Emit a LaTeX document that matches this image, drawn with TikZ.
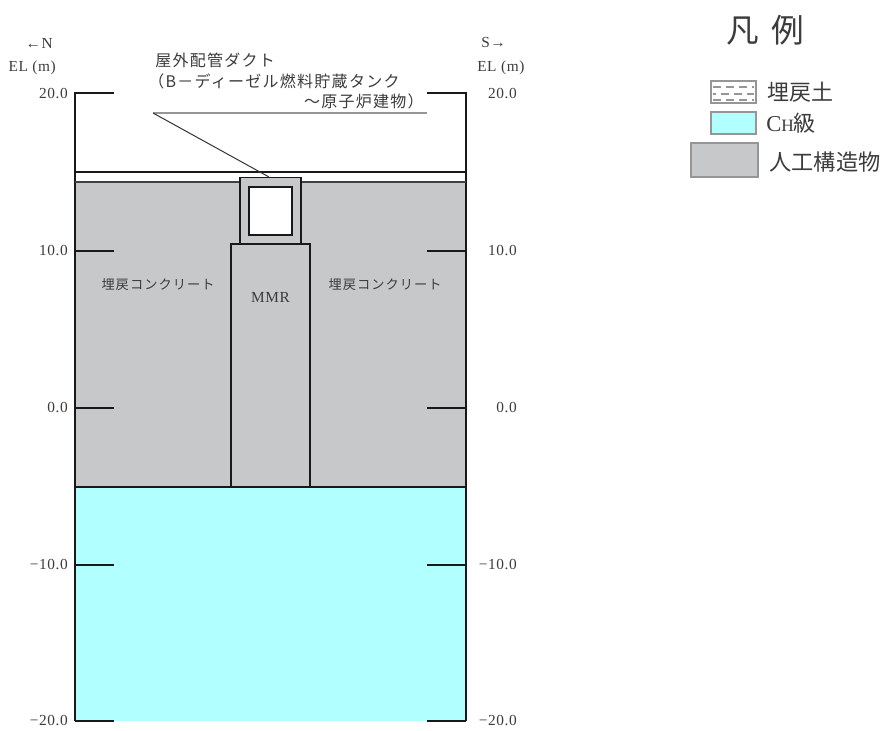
\documentclass[tikz,border=0pt]{standalone}
\usepackage{fontspec}
\setmainfont{Liberation Serif}
\newfontfamily\jp{Noto Sans CJK JP}
\newfontfamily\jpw[LetterSpace=8]{Noto Sans CJK JP}
\newfontfamily\latw[LetterSpace=4]{Liberation Serif}
\definecolor{fillgray}{RGB}{198,200,202}
\definecolor{fillcyan}{RGB}{178,255,255}
\definecolor{edgegray}{RGB}{150,150,150}
\definecolor{txt}{RGB}{60,60,60}
\tikzset{
  outl/.style={draw=black!90,line width=1.15pt},
  boxn/.style={draw=black!90,line width=1.3pt,inner sep=0pt,outer sep=0pt},
  lab/.style={inner sep=0pt,text=txt,font=\latw\fontsize{11.5}{13}\selectfont},
  jplab/.style={inner sep=0pt,text=txt,font=\jpw\fontsize{12}{14}\selectfont},
  smalljp/.style={inner sep=0pt,text=txt,font=\jpw\fontsize{9.9}{11}\selectfont},
  legjp/.style={inner sep=0pt,anchor=west,text=txt,font=\jp\fontsize{16.5}{18}\selectfont},
  legdash/.style={edgegray,line width=0.8pt,dash pattern=on 6pt off 3.75pt},
}
\begin{document}
\begin{tikzpicture}[x=0.75pt,y=-0.75pt]
\useasboundingbox[fill=white] (0,0) rectangle (885,731);
% regions
\fill[fillcyan] (75,487) rectangle (466,721);
\fill[fillgray] (75,182) rectangle (466,487);
% outline and layers
\draw[outl] (114,93) -- (75,93) -- (75,721);
\draw[outl] (427,93) -- (466,93) -- (466,721);
\draw[outl] (75,172) -- (466,172);
\draw[draw=black!75,line width=0.8pt] (75,182) -- (466,182);
\draw[outl] (75,487) -- (466,487);
% structures
\node[boxn,fill=fillgray,minimum width=45.75pt,minimum height=49.5pt] (duct) at (270.5,210.5) {};
\node[boxn,fill=white,minimum width=32pt,minimum height=36pt] (hollow) at (270.5,211) {};
\node[boxn,fill=fillgray,anchor=north,minimum width=59.25pt,minimum height=182.25pt] (mmr) at (270.5,244) {};
\node[lab,font=\latw\fontsize{11.5}{13}\selectfont] (mmrt) at (270.5,297) {MMR};
\node[smalljp] (bl) at (158,285) {埋戻コンクリート};
\node[smalljp] (br) at (385,285) {埋戻コンクリート};
% ticks
\foreach \yy/\t in {251/10.0,408/0.0,565/{−10.0},721/{−20.0}}{
  \draw[outl] (75,\yy) -- (114,\yy);
  \draw[outl] (427,\yy) -- (466,\yy);
  \node[lab,anchor=east] at (68,\yy) {\t};
  \node[lab,anchor=east] at (517,\yy) {\t};
}
\node[lab,anchor=east] (l20) at (68,94) {20.0};
\node[lab,anchor=east] (r20) at (517,94) {20.0};
\node[lab,anchor=east] (n) at (53,43) {←N};
\node[lab,anchor=east] (ell) at (56,68) {EL (m)};
\node[lab,anchor=west] (s) at (481,43) {S→};
\node[lab,anchor=west] (elr) at (477,68) {EL (m)};
% leader
\coordinate (la) at (153,113);
\coordinate (lb) at (427,113);
\coordinate (lc) at (269,177);
\draw[edgegray,line width=0.9pt] (la) -- (lb);
\draw[black!80,line width=0.75pt] (la) -- (lc);
% callout
\node[jplab,anchor=west] (c1) at (155,60) {屋外配管ダクト};
\node[jplab,anchor=west] (c2) at (148,81) {（B－ディーゼル燃料貯蔵タンク};
\node[jplab,anchor=east] (c3) at (424,101) {～原子炉建物）};
% legend
\node[inner sep=0pt,text=txt,font=\jp\fontsize{24.5}{28}\selectfont] (title) at (765,30) {凡\hspace{0.38em}例};
\draw[edgegray,line width=0.8pt,fill=white] (711,81) rectangle (756,103);
\draw[legdash] (713,87) -- (754,87);
\draw[legdash,dash phase=4pt] (713,94) -- (754,94);
\draw[legdash] (713,100) -- (754,100);
\draw[edgegray,line width=0.8pt,fill=fillcyan] (711,112) rectangle (756,134);
\draw[edgegray,line width=0.9pt,fill=fillgray] (691,143) rectangle (758,177);
\node[legjp] (a1) at (767,92) {埋戻土};
\node[legjp] (a2) at (766,123) {\fontspec{Liberation Serif}\fontsize{17}{18}\selectfont C\fontsize{13}{14}\selectfont H\jp\fontsize{16.5}{18}\selectfont 級};
\node[legjp,font=\jp\fontsize{16.7}{18}\selectfont] (a3) at (769,162) {人工構造物};
\end{tikzpicture}
\end{document}
